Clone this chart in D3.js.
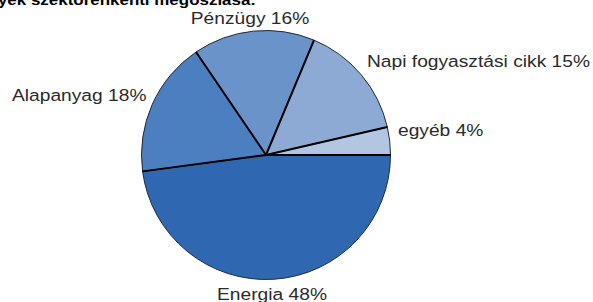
<!DOCTYPE html>
<html>
<head>
<meta charset="utf-8">
<script src="https://cdn.jsdelivr.net/npm/d3@7"></script>
<style>
  body { margin: 0; background: #fff; }
  text { font-family: "Liberation Sans", Arial, sans-serif; }
</style>
</head>
<body>
<div id="chart"></div>
<script>
const width = 593
const height = 302

// Data
const sectors = ["Energia", "Alapanyag", "Pénzügy", "Napi fogyasztási cikk", "egyéb"]
const values = [47.9, 17.6, 15.8, 15.1, 3.6]
const labels = ["Energia 48%", "Alapanyag 18%", "Pénzügy 16%", "Napi fogyasztási cikk 15%", "egyéb 4%"]
const colors = ["#2f68b1", "#4c7fbf", "#6a94c9", "#8caad4", "#b2c6e3"]

const cx = 266, cy = 155, radius = 124.5
const stretch = 1.13 // text in the original is slightly wider than Arial

const svg = d3.select("div#chart").append("svg").attr("width", width).attr("height", height)

// Title (cut off at the top in the original)
svg.append("text")
    .attr("transform", `translate(256, 5) scale(${stretch}, 1)`)
    .attr("text-anchor", "end")
    .attr("font-size", 15).attr("font-weight", "bold").attr("fill", "#000")
    .text("A BUX részvények szektorenkénti megoszlása:")

const pie = d3.pie().sort(null).value(d => d.value)
    .startAngle(Math.PI / 2).endAngle(Math.PI / 2 + 2 * Math.PI)
const arcs = pie(sectors.map((s, i) => ({name: s, value: values[i], label: labels[i]})))
const arc = d3.arc().innerRadius(0).outerRadius(radius)

const pieGroup = svg.append("g").attr("transform", `translate(${cx}, ${cy})`)

pieGroup.selectAll("path")
    .data(arcs)
    .enter().append("path")
    .attr("d", arc)
    .attr("fill", (d, i) => colors[i])
    .attr("stroke", "#1e2a3a")
    .attr("stroke-width", 1)

// Slice separators
pieGroup.selectAll("line.sep")
    .data(arcs)
    .enter().append("line")
    .attr("class", "sep")
    .attr("x1", 0).attr("y1", 0)
    .attr("x2", d => radius * Math.sin(d.startAngle))
    .attr("y2", d => -radius * Math.cos(d.startAngle))
    .attr("stroke", "#000")
    .attr("stroke-width", 2)

// Labels
const labelPos = {
    "Energia": {x: 272, y: 300, anchor: "middle"},
    "Alapanyag": {x: 12, y: 101, anchor: "start"},
    "Pénzügy": {x: 250, y: 24, anchor: "middle"},
    "Napi fogyasztási cikk": {x: 367, y: 67, anchor: "start"},
    "egyéb": {x: 398, y: 136, anchor: "start"}
}

svg.selectAll("text.label")
    .data(arcs)
    .enter().append("text")
    .attr("class", "label")
    .attr("transform", d => `translate(${labelPos[d.data.name].x}, ${labelPos[d.data.name].y}) scale(${stretch}, 1)`)
    .attr("text-anchor", d => labelPos[d.data.name].anchor)
    .attr("font-size", 17)
    .attr("fill", "#2a2a2a")
    .text(d => d.data.label)
</script>
</body>
</html>
